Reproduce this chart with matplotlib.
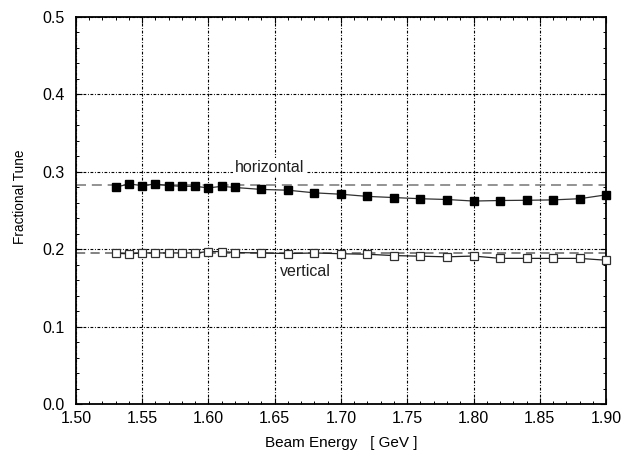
import matplotlib

matplotlib.use("Agg")
import matplotlib.pyplot as plt
from matplotlib.ticker import MultipleLocator, FormatStrFormatter

# Beam energy [GeV] and measured fractional tunes
energy = [1.53, 1.54, 1.55, 1.56, 1.57, 1.58, 1.59, 1.60, 1.61, 1.62,
          1.64, 1.66, 1.68, 1.70, 1.72, 1.74, 1.76, 1.78, 1.80, 1.82,
          1.84, 1.86, 1.88, 1.90]
tune_h = [0.280, 0.284, 0.282, 0.284, 0.282, 0.281, 0.281, 0.279, 0.281, 0.2795,
          0.277, 0.276, 0.2726, 0.2708, 0.268, 0.2665, 0.265, 0.264, 0.262, 0.2627,
          0.263, 0.2635, 0.265, 0.270]
tune_v = [0.1946, 0.1938, 0.195, 0.195, 0.195, 0.195, 0.195, 0.1968, 0.1968, 0.1955,
          0.195, 0.1942, 0.195, 0.194, 0.1933, 0.1916, 0.1908, 0.190, 0.191, 0.188,
          0.188, 0.188, 0.188, 0.1856]
# design (nominal) tunes, drawn dashed
nominal_h = 0.2824
nominal_v = 0.1951
x_range = [1.50, 1.90]

plt.rcParams["font.family"] = ["Liberation Sans", "DejaVu Sans"]

fig = plt.figure(figsize=(6.31, 4.55), dpi=100)
ax = fig.add_axes([0.1204, 0.1121, 0.8400, 0.8512])

ax.plot(x_range, [nominal_h, nominal_h], color="#808080", lw=1.2,
        dashes=(6, 3.5), zorder=2)
ax.plot(x_range, [nominal_v, nominal_v], color="#606060", lw=1.1,
        dashes=(6, 3.5), zorder=2)

ax.plot(energy, tune_h, color="#303030", lw=0.9, marker="s", ms=5.5,
        mfc="black", mec="black", zorder=4, clip_on=False)
ax.plot(energy, tune_v, color="#202020", lw=0.9, marker="s", ms=5.2,
        mfc="white", mec="#303030", mew=0.9, zorder=4, clip_on=False)

ax.text(1.646, 0.3055, "horizontal", ha="center", va="center", fontsize=11.5,
        color="#202020", zorder=5,
        bbox=dict(facecolor="white", edgecolor="none", pad=1.0))
ax.text(1.654, 0.1707, "vertical", ha="left", va="center", fontsize=11.5,
        color="#202020", zorder=5)

ax.set_xlim(1.50, 1.90)
ax.set_ylim(0.0, 0.5)
ax.xaxis.set_major_locator(MultipleLocator(0.05))
ax.xaxis.set_minor_locator(MultipleLocator(0.01))
ax.yaxis.set_major_locator(MultipleLocator(0.1))
ax.yaxis.set_minor_locator(MultipleLocator(0.02))
ax.xaxis.set_major_formatter(FormatStrFormatter("%.2f"))
ax.yaxis.set_major_formatter(FormatStrFormatter("%.1f"))

ax.grid(True, which="major", color="black", lw=0.8, linestyle=(0, (2.5, 1.5, 0.8, 1.5)))
ax.tick_params(which="both", direction="in", top=True, right=True,
               labelsize=11.5, color="black")
ax.tick_params(which="major", length=4, width=0.8, pad=8)
ax.tick_params(which="minor", length=2.5, width=0.7)
ax.tick_params(axis="x", which="major", pad=5)
for sp in ax.spines.values():
    sp.set_linewidth(1.3)

ax.set_xlabel("Beam Energy   [ GeV ]", fontsize=11, labelpad=7)
ax.set_ylabel("Fractional Tune", fontsize=9.8)
ax.yaxis.set_label_coords(-0.092, 0.534)

fig.savefig("out.png", dpi=100)
